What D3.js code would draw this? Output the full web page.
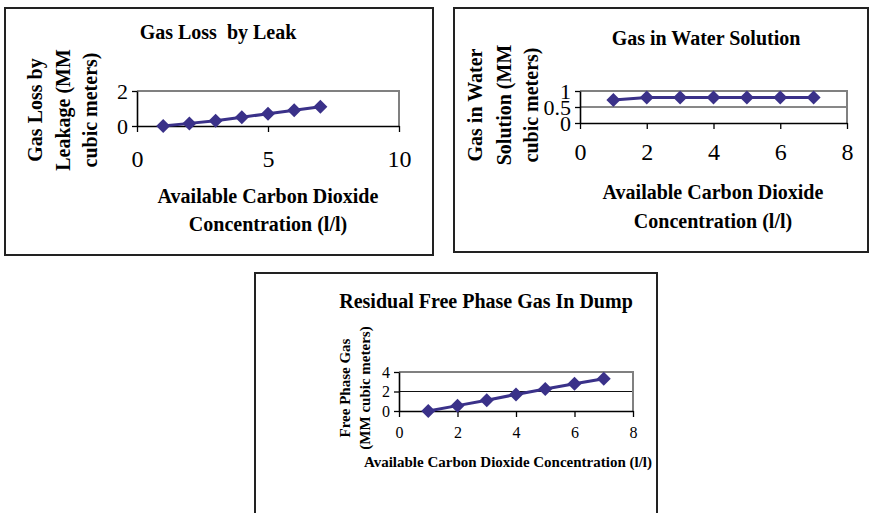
<!DOCTYPE html>
<html>
<head>
<meta charset="utf-8">
<script src="https://cdn.jsdelivr.net/npm/d3@7"></script>
<style>
  body { margin: 0; background: #fff; }
  text { font-family: "Liberation Serif", "Times New Roman", serif; fill: #000; }
</style>
</head>
<body>
<div id="chartContainer"></div>
<script>
'use strict';

// x values shared by all three charts
const concentration = [1, 2, 3, 4, 5, 6, 7];

// series values
const gasLossLeak = [0, 0.15, 0.3, 0.5, 0.7, 0.9, 1.1];
const gasInWater = [0.72, 0.8, 0.8, 0.8, 0.8, 0.8, 0.8];
const freePhaseGas = [0, 0.55, 1.1, 1.7, 2.25, 2.8, 3.3];

// tick labels
const leakXTicks = [0, 5, 10];
const leakYTicks = [0, 2];
const waterXTicks = [0, 2, 4, 6, 8];
const waterYTicks = [0, 0.5, 1];
const dumpXTicks = [0, 2, 4, 6, 8];
const dumpYTicks = [0, 2, 4];

const markColor = "#3a3189";
const serif = "Liberation Serif, Times New Roman, serif";

const svg = d3.select("#chartContainer")
    .append("svg")
    .attr("width", 870)
    .attr("height", 513);

// Draws one boxed chart panel
const drawPanel = (p) => {

    svg.append("rect")
        .attr("x", p.box[0]).attr("y", p.box[1])
        .attr("width", p.box[2]).attr("height", p.box[3])
        .attr("fill", "none")
        .attr("stroke", "#222")
        .attr("stroke-width", 2);

    const x = d3.scaleLinear()
        .domain([p.xTicks[0], p.xTicks[p.xTicks.length - 1]])
        .range([p.plot.left, p.plot.right]);

    const y = d3.scaleLinear()
        .domain([p.yTicks[0], p.yTicks[p.yTicks.length - 1]])
        .range([p.plot.bottom, p.plot.top]);

    // gridlines inside the plot area
    svg.append("g")
        .selectAll("line")
        .data(p.yTicks.slice(1, -1))
        .enter()
        .append("line")
        .attr("x1", p.plot.left).attr("x2", p.plot.right)
        .attr("y1", d => y(d)).attr("y2", d => y(d))
        .attr("stroke", "#111")
        .attr("stroke-width", 1);

    // gray top and right frame
    svg.append("path")
        .attr("d", "M" + p.plot.left + "," + p.plot.top + "H" + p.plot.right + "V" + p.plot.bottom)
        .attr("fill", "none")
        .attr("stroke", "#808080")
        .attr("stroke-width", 2);

    const xAxis = svg.append("g")
        .attr("transform", "translate(0," + p.plot.bottom + ")")
        .call(d3.axisBottom(x).tickValues(p.xTicks).tickSize(6).tickSizeOuter(0).tickPadding(p.xPad).tickFormat(d3.format("")));

    const yAxis = svg.append("g")
        .attr("transform", "translate(" + p.plot.left + ",0)")
        .call(d3.axisLeft(y).tickValues(p.yTicks).tickSize(5).tickSizeOuter(0).tickPadding(4).tickFormat(d3.format("")));

    [xAxis, yAxis].forEach(a => {
        a.attr("font-family", serif);
        a.select(".domain").attr("stroke", "#000").attr("stroke-width", 1.6);
        a.selectAll(".tick line").attr("stroke", "#000").attr("stroke-width", 1.3);
        a.selectAll("text")
            .attr("fill", "#000")
            .attr("font-family", serif);
    });
    xAxis.attr("font-size", p.tickFont);
    yAxis.attr("font-size", p.yTickFont);
    if (p.yTickSquash) {
        yAxis.selectAll(".tick text")
            .attr("transform", "scale(1," + p.yTickSquash + ")")
            .attr("y", function () { return 0; })
            .attr("dy", "0.36em");
    }

    // series line and diamond markers
    const points = concentration.map((c, i) => [c, p.values[i]]);

    svg.append("path")
        .datum(points)
        .attr("fill", "none")
        .attr("stroke", markColor)
        .attr("stroke-width", 3)
        .attr("d", d3.line().x(d => x(d[0])).y(d => y(d[1])));

    svg.append("g")
        .selectAll("path")
        .data(points)
        .enter()
        .append("path")
        .attr("transform", d => "translate(" + x(d[0]) + "," + y(d[1]) + ")")
        .attr("d", "M0,-7L7,0L0,7L-7,0Z")
        .attr("fill", markColor);

    // titles
    svg.append("text")
        .attr("x", p.title.x).attr("y", p.title.y)
        .attr("text-anchor", "middle")
        .style("font-weight", "bold")
        .style("font-size", p.title.size + "px")
        .style("white-space", "pre")
        .text(p.title.text);

    p.xTitle.lines.forEach((line, i) => {
        svg.append("text")
            .attr("x", p.xTitle.x).attr("y", p.xTitle.y[i])
            .attr("text-anchor", "middle")
            .style("font-weight", "bold")
            .style("font-size", p.xTitle.size + "px")
            .text(line);
    });

    p.yTitle.lines.forEach((line, i) => {
        svg.append("text")
            .attr("transform", "translate(" + p.yTitle.x[i] + "," + p.yTitle.y + ") rotate(-90)")
            .attr("text-anchor", "middle")
            .style("font-weight", "bold")
            .style("font-size", p.yTitle.size + "px")
            .text(line);
    });
}

drawPanel({
    box: [5, 8, 428, 247],
    plot: { left: 137, right: 399, top: 91, bottom: 126 },
    xTicks: leakXTicks, yTicks: leakYTicks, values: gasLossLeak,
    tickFont: 24, yTickFont: 22, xPad: 18,
    title: { text: "Gas Loss  by Leak", x: 218, y: 39, size: 20 },
    xTitle: { lines: ["Available Carbon Dioxide", "Concentration (l/l)"], x: 268, y: [203, 231], size: 20 },
    yTitle: { lines: ["Gas Loss by", "Leakage (MM", "cubic meters)"], x: [42, 70, 97], y: 110, size: 20 }
});

drawPanel({
    box: [454, 8, 414, 244],
    plot: { left: 580, right: 847, top: 91, bottom: 123 },
    xTicks: waterXTicks, yTicks: waterYTicks, values: gasInWater,
    tickFont: 24, yTickFont: 22, xPad: 14,
    title: { text: "Gas in Water Solution", x: 706, y: 45, size: 20 },
    xTitle: { lines: ["Available Carbon Dioxide", "Concentration (l/l)"], x: 713, y: [199, 228], size: 20 },
    yTitle: { lines: ["Gas in Water", "Solution (MM", "cubic meters)"], x: [482, 511, 538], y: 105, size: 20 }
});

drawPanel({
    box: [255, 273, 402, 260],
    plot: { left: 399, right: 633, top: 372, bottom: 411 },
    xTicks: dumpXTicks, yTicks: dumpYTicks, values: freePhaseGas,
    tickFont: 16, yTickFont: 16, xPad: 10,
    title: { text: "Residual Free Phase Gas In Dump", x: 486, y: 308, size: 20 },
    xTitle: { lines: ["Available Carbon Dioxide Concentration (l/l)"], x: 508, y: [467], size: 15 },
    yTitle: { lines: ["Free Phase Gas", "(MM cubic meters)"], x: [350, 370], y: 388, size: 15 }
});
</script>
</body>
</html>
